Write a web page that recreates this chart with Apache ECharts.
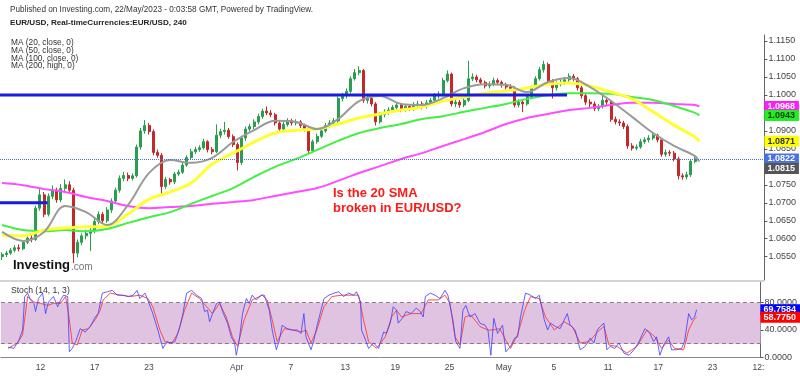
<!DOCTYPE html>
<html><head><meta charset="utf-8">
<script src="https://cdn.jsdelivr.net/npm/echarts@6/dist/echarts.min.js"></script>
<style>html,body{margin:0;padding:0;background:#fff}#c{width:800px;height:376px}</style>
</head><body><div id="c"></div>
<script>
// ---------- DATA ----------
const N_SLOTS = 182; // 8-hour bar slots shown on the time axis (incl. empty future space)
const xTickIdx  = [9, 22, 35, 56, 69, 82, 94, 107, 120, 132, 145, 157, 170, 181];
const xTickText = ['12','17','23','Apr','7','13','19','25','May','5','11','17','23','12:'];

const candleOpen = [1.0550,1.0556,1.0560,1.0568,1.0575,1.0572,1.0590,1.0602,1.0598,1.0685,
 1.0722,1.0668,1.0718,1.0735,1.0708,1.0740,1.0750,1.0735,1.0560,1.0590,
 1.0608,1.0615,1.0622,1.0648,1.0668,1.0650,1.0680,1.0705,1.0735,1.0768,
 1.0776,1.0768,1.0775,1.0855,1.0900,1.0915,1.0898,1.0840,1.0832,1.0745,
 1.0765,1.0758,1.0780,1.0785,1.0805,1.0826,1.0842,1.0848,1.0853,1.0870,
 1.0848,1.0842,1.0888,1.0898,1.0902,1.0884,1.0862,1.0812,1.0880,1.0905,
 1.0912,1.0925,1.0940,1.0955,1.0950,1.0945,1.0922,1.0905,1.0918,1.0928,
 1.0922,1.0925,1.0915,1.0905,1.0845,1.0870,1.0885,1.0900,1.0915,1.0922,
 1.0928,1.0990,1.0998,1.1010,1.1045,1.1062,1.1068,1.0985,1.0990,1.0975,
 1.0925,1.0945,1.0952,1.0958,1.0965,1.0972,1.0960,1.0968,1.0962,1.0972,
 1.0975,1.0968,1.0978,1.0985,1.0998,1.1002,1.1040,1.1058,1.0975,1.0980,
 1.0972,1.0985,1.1045,1.1050,1.1042,1.1035,1.1025,1.1030,1.1040,1.1035,
 1.1028,1.1022,1.1018,1.0972,1.0980,1.0975,1.0995,1.1020,1.1045,1.1070,
 1.1085,1.1038,1.1020,1.1030,1.1035,1.1042,1.1052,1.1045,1.1020,1.0998,
 1.0980,1.0975,1.0962,1.0968,1.0985,1.0980,1.0932,1.0925,1.0922,1.0912,
 1.0858,1.0852,1.0855,1.0870,1.0875,1.0880,1.0888,1.0875,1.0835,1.0840,
 1.0838,1.0822,1.0775,1.0772,1.0778,1.0815];
const candleClose = [1.0556,1.0560,1.0568,1.0575,1.0572,1.0590,1.0602,1.0598,1.0685,1.0722,
 1.0668,1.0718,1.0735,1.0708,1.0740,1.0750,1.0735,1.0560,1.0590,1.0608,
 1.0615,1.0622,1.0648,1.0668,1.0650,1.0680,1.0705,1.0735,1.0768,1.0776,
 1.0768,1.0775,1.0855,1.0900,1.0915,1.0898,1.0840,1.0832,1.0745,1.0765,
 1.0758,1.0780,1.0785,1.0805,1.0826,1.0842,1.0848,1.0853,1.0870,1.0848,
 1.0842,1.0888,1.0898,1.0902,1.0884,1.0862,1.0812,1.0880,1.0905,1.0912,
 1.0925,1.0940,1.0955,1.0950,1.0945,1.0922,1.0905,1.0918,1.0928,1.0922,
 1.0925,1.0915,1.0905,1.0845,1.0870,1.0885,1.0900,1.0915,1.0922,1.0928,
 1.0990,1.0998,1.1010,1.1045,1.1062,1.1068,1.0985,1.0990,1.0975,1.0925,
 1.0945,1.0952,1.0958,1.0965,1.0972,1.0960,1.0968,1.0962,1.0972,1.0975,
 1.0968,1.0978,1.0985,1.0998,1.1002,1.1040,1.1058,1.0975,1.0980,1.0972,
 1.0985,1.1045,1.1050,1.1042,1.1035,1.1025,1.1030,1.1040,1.1035,1.1028,
 1.1022,1.1018,1.0972,1.0980,1.0975,1.0995,1.1020,1.1045,1.1070,1.1085,
 1.1038,1.1020,1.1030,1.1035,1.1042,1.1052,1.1045,1.1020,1.0998,1.0980,
 1.0975,1.0962,1.0968,1.0985,1.0980,1.0932,1.0925,1.0922,1.0912,1.0858,
 1.0852,1.0855,1.0870,1.0875,1.0880,1.0888,1.0875,1.0835,1.0840,1.0838,
 1.0822,1.0775,1.0772,1.0778,1.0815,1.0822];
const candleHigh = [1.0562,1.0566,1.0574,1.0582,1.0584,1.0596,1.0610,1.0612,1.0692,1.0738,
 1.0730,1.0726,1.0748,1.0742,1.0752,1.0765,1.0760,1.0742,1.0598,1.0615,
 1.0625,1.0630,1.0655,1.0676,1.0674,1.0688,1.0712,1.0742,1.0776,1.0786,
 1.0784,1.0782,1.0862,1.0908,1.0930,1.0922,1.0904,1.0848,1.0838,1.0772,
 1.0770,1.0786,1.0792,1.0812,1.0832,1.0850,1.0856,1.0860,1.0878,1.0874,
 1.0855,1.0918,1.0906,1.0925,1.0908,1.0890,1.0868,1.0886,1.0912,1.0920,
 1.0932,1.0948,1.0962,1.0968,1.0958,1.0950,1.0928,1.0925,1.0935,1.0934,
 1.0932,1.0930,1.0920,1.0910,1.0876,1.0892,1.0906,1.0922,1.0930,1.0936,
 1.0996,1.1006,1.1018,1.1052,1.1072,1.1080,1.1072,1.0998,1.0996,1.0980,
 1.0952,1.0960,1.0966,1.0972,1.0980,1.0978,1.0975,1.0974,1.0980,1.0984,
 1.0982,1.0986,1.0992,1.1005,1.1010,1.1048,1.1068,1.1062,1.0988,1.0986,
 1.0992,1.1095,1.1060,1.1056,1.1048,1.1040,1.1038,1.1048,1.1046,1.1040,
 1.1034,1.1030,1.1024,1.0988,1.0986,1.1002,1.1026,1.1052,1.1078,1.1095,
 1.1090,1.1044,1.1038,1.1042,1.1050,1.1060,1.1058,1.1050,1.1026,1.1004,
 1.0988,1.0982,1.0975,1.1005,1.0992,1.0986,1.0940,1.0932,1.0928,1.0918,
 1.0866,1.0862,1.0878,1.0882,1.0888,1.0895,1.0892,1.0880,1.0848,1.0846,
 1.0844,1.0828,1.0782,1.0786,1.0822,1.0832];
const candleLow = [1.0541,1.0549,1.0555,1.0562,1.0565,1.0568,1.0585,1.0590,1.0594,1.0678,
 1.0660,1.0662,1.0710,1.0700,1.0702,1.0732,1.0726,1.0532,1.0548,1.0582,
 1.0598,1.0566,1.0615,1.0640,1.0642,1.0644,1.0672,1.0698,1.0728,1.0760,
 1.0760,1.0762,1.0770,1.0848,1.0892,1.0890,1.0832,1.0825,1.0722,1.0738,
 1.0750,1.0752,1.0774,1.0780,1.0800,1.0820,1.0836,1.0842,1.0848,1.0840,
 1.0835,1.0838,1.0880,1.0890,1.0878,1.0855,1.0790,1.0805,1.0872,1.0898,
 1.0905,1.0918,1.0934,1.0944,1.0938,1.0915,1.0898,1.0900,1.0912,1.0915,
 1.0915,1.0908,1.0898,1.0835,1.0840,1.0864,1.0880,1.0895,1.0908,1.0915,
 1.0922,1.0982,1.0990,1.1005,1.1040,1.1055,1.0978,1.0976,1.0968,1.0915,
 1.0920,1.0938,1.0945,1.0950,1.0958,1.0952,1.0954,1.0955,1.0956,1.0965,
 1.0960,1.0962,1.0972,1.0980,1.0990,1.0996,1.1035,1.0968,1.0966,1.0964,
 1.0966,1.0980,1.1038,1.1035,1.1028,1.1018,1.1018,1.1024,1.1028,1.1020,
 1.1015,1.1010,1.0965,1.0965,1.0952,1.0970,1.0990,1.1015,1.1040,1.1062,
 1.1030,1.0990,1.1012,1.1024,1.1028,1.1036,1.1038,1.1012,1.0990,1.0972,
 1.0966,1.0955,1.0955,1.0962,1.0972,1.0925,1.0918,1.0914,1.0905,1.0850,
 1.0845,1.0846,1.0850,1.0864,1.0868,1.0874,1.0868,1.0828,1.0828,1.0830,
 1.0815,1.0765,1.0764,1.0765,1.0772,1.0810];

// moving averages, read at these bar positions
const maIdx = [0,5,10,15,20,25,30,35,40,45,50,55,60,65,70,75,80,85,90,95,100,105,110,115,120,125,130,135,140,145,150,155,160,165,166];
const ma20  = [1.0619,1.0594,1.0619,1.0691,1.0674,1.0638,1.0694,1.0783,1.0819,1.0811,1.0825,1.0869,1.0902,1.0928,1.0925,1.0905,1.0933,1.0983,1.0997,1.0975,1.0972,1.0991,1.1019,1.1030,1.1028,1.1008,1.1036,1.1047,1.1022,1.0983,1.0939,1.0894,1.0858,1.0830,1.0815];
const ma50  = [1.0610,1.0608,1.0624,1.0630,1.0633,1.0635,1.0669,1.0710,1.0730,1.0755,1.0808,1.0838,1.0869,1.0894,1.0902,1.0905,1.0919,1.0936,1.0947,1.0958,1.0966,1.0983,1.0994,1.1005,1.1011,1.1019,1.1030,1.1033,1.1025,1.1008,1.0989,1.0953,1.0916,1.0883,1.0871];
const ma100 = [1.0638,1.0624,1.0621,1.0624,1.0621,1.0627,1.0644,1.0660,1.0674,1.0697,1.0719,1.0741,1.0772,1.0800,1.0822,1.0847,1.0872,1.0894,1.0908,1.0919,1.0933,1.0941,1.0953,1.0964,1.0975,1.0989,1.1000,1.1005,1.1005,1.1003,1.0994,1.0986,1.0969,1.0950,1.0943];
const ma200 = [1.0755,1.0749,1.0738,1.0730,1.0716,1.0705,1.0691,1.0685,1.0688,1.0691,1.0697,1.0702,1.0708,1.0719,1.0730,1.0741,1.0761,1.0783,1.0802,1.0822,1.0838,1.0858,1.0877,1.0897,1.0919,1.0936,1.0947,1.0958,1.0964,1.0972,1.0978,1.0978,1.0975,1.0972,1.0968];

// horizontal trend levels [price, fromBar, toBar]
const levelPrice = [1.1000, 1.0700];
const levelFrom  = [-0.5, -0.5];
const levelTo    = [134.5, 10.8];

// stochastic (14,1,3): [bar position, value]
const stochK = [[1.2,15],[2.6,13],[3.8,25],[4.7,40],[5.2,89],[5.9,94],[6.6,84],[7.4,79],[7.8,67],[8.5,86],[9.5,94],[10.2,64],[10.9,81],[12.1,89],[13.1,74],[13.8,84],[14.5,91],[15.5,89],[15.9,8],[16.6,13],[17.4,23],[18.5,42],[19.7,37],[20.9,45],[22.1,59],[22.8,64],[23.8,94],[25.0,96],[26.2,98],[27.4,91],[28.8,91],[30.0,89],[31.2,91],[32.1,98],[32.8,86],[34.0,94],[34.7,84],[35.9,64],[37.1,40],[38.3,13],[39.3,23],[40.0,21],[41.2,23],[42.4,45],[43.1,64],[44.0,94],[45.2,98],[46.4,91],[47.6,86],[48.3,67],[49.0,69],[49.5,52],[50.2,64],[51.2,79],[51.9,81],[52.6,67],[53.8,50],[54.7,30],[55.5,21],[55.9,3],[56.6,25],[57.4,64],[58.3,86],[59.0,79],[59.7,91],[60.7,84],[61.9,91],[62.6,91],[63.8,69],[64.5,40],[65.5,11],[66.2,25],[66.9,47],[68.1,42],[69.3,40],[70.5,40],[71.4,35],[72.1,64],[72.6,30],[73.8,11],[74.5,25],[75.2,45],[76.2,69],[76.9,86],[78.1,91],[79.3,94],[80.5,96],[81.6,89],[82.8,94],[84.0,91],[84.7,96],[85.7,81],[85.9,40],[86.9,25],[87.6,13],[88.8,21],[90.0,13],[91.2,37],[91.9,35],[92.8,50],[93.5,74],[94.3,69],[94.7,50],[95.9,59],[96.6,67],[97.8,64],[99.0,72],[100.0,67],[100.7,59],[101.2,89],[102.4,94],[103.5,91],[104.7,86],[105.9,98],[106.6,91],[107.8,55],[108.5,23],[109.5,13],[110.2,69],[110.9,76],[111.9,59],[113.1,64],[114.3,50],[115.5,47],[116.2,40],[116.9,3],[117.6,57],[118.5,35],[119.7,47],[120.5,8],[121.6,16],[122.6,28],[123.3,30],[124.0,59],[125.2,94],[126.4,91],[127.6,86],[128.5,91],[129.7,55],[130.5,40],[131.2,50],[132.4,45],[133.5,42],[135.2,64],[135.9,47],[137.1,40],[138.3,11],[139.5,16],[140.7,28],[141.6,21],[142.4,40],[143.1,45],[144.0,50],[144.7,11],[145.5,16],[146.6,13],[147.6,21],[148.8,6],[150.0,3],[151.2,11],[152.4,23],[153.8,42],[155.0,35],[155.9,23],[156.6,30],[157.4,3],[158.3,18],[159.5,30],[160.2,11],[161.4,11],[162.6,13],[163.3,23],[164.3,64],[165.0,55],[165.7,59],[166.2,69.7584]];
const stochD = [[1.2,13],[3.5,21],[4.7,33],[5.9,89],[7.4,81],[9.0,79],[10.7,76],[12.1,79],[13.8,79],[15.0,89],[15.7,64],[16.6,21],[17.8,18],[19.0,40],[20.5,42],[22.1,55],[23.3,69],[24.0,84],[25.7,94],[28.1,91],[30.5,89],[32.8,91],[34.7,86],[35.9,74],[37.6,40],[38.8,23],[40.5,21],[41.9,35],[43.5,69],[45.2,94],[47.1,86],[48.8,74],[50.2,64],[51.9,79],[53.5,59],[55.0,30],[56.2,16],[57.8,55],[59.7,84],[62.1,91],[63.3,84],[64.5,55],[65.7,23],[67.4,42],[69.3,40],[71.4,37],[72.6,40],[73.8,21],[75.2,40],[76.9,74],[78.8,89],[81.2,91],[83.5,91],[85.2,91],[86.4,55],[87.6,23],[89.5,13],[91.6,30],[93.1,59],[94.3,69],[95.5,59],[97.8,64],[100.2,64],[101.9,84],[104.3,84],[105.9,91],[107.1,79],[108.3,30],[109.5,18],[110.7,59],[112.1,62],[114.3,45],[116.2,40],[117.4,40],[119.0,42],[120.5,25],[121.6,13],[123.3,33],[125.0,69],[126.4,89],[128.5,86],[130.0,59],[132.1,40],[134.5,52],[136.4,45],[138.3,21],[140.5,23],[142.4,37],[144.0,45],[145.2,18],[147.1,16],[149.5,6],[151.9,16],[154.3,40],[156.2,30],[157.8,13],[159.5,25],[160.9,13],[163.1,11],[164.3,40],[165.5,55],[166.2,58.775]];

const priceTicks = [1.0550,1.0600,1.0650,1.0700,1.0750,1.0800,1.0850,1.0900,1.0950,1.1000,1.1050,1.1100,1.1150];
const stochTicks = [0, 40, 80];
const stochBand = [20, 80];

// ---------- CHART ----------
const FONT = "'Liberation Sans', Arial, sans-serif";
const chart = echarts.init(document.getElementById('c'), null, {renderer: 'canvas'});
const cats = Array.from({length: N_SLOTS}, (_, i) => 'b' + i);
const candles = candleOpen.map((o, i) => [o, candleClose[i], candleLow[i], candleHigh[i]]);
const pairs = (xs, ys) => xs.map((x, i) => [x, ys[i]]);
const last = a => a[a.length - 1];

function tag(value, bg, fg, dy, lineStyle) {
  return {
    yAxis: value,
    lineStyle: lineStyle || {color: 'rgba(0,0,0,0)', width: 1},
    label: {show: true, position: 'end', distance: 0, formatter: value.toFixed(4),
      backgroundColor: bg, color: fg, fontSize: 9, fontWeight: 'bold', fontFamily: FONT,
      padding: [1, 4, 1, 3], offset: [0, dy || 0]}
  };
}

const maStyle = (color, w) => ({type: 'line', xAxisIndex: 1, yAxisIndex: 0, smooth: 0.35, showSymbol: false,
  symbol: 'none', lineStyle: {color, width: w}, z: 4, silent: true});

const option = {
  animation: false,
  backgroundColor: '#ffffff',
  textStyle: {fontFamily: FONT},
  grid: [
    {left: 0, right: 35.6, top: 35, bottom: 96},
    {left: 0, right: 35.6, top: 282.2, bottom: 18.7}
  ],
  xAxis: [
    {type: 'category', gridIndex: 0, data: cats, boundaryGap: true, show: false},
    {type: 'value', gridIndex: 0, min: -0.5, max: N_SLOTS - 0.5, show: false},
    {type: 'category', gridIndex: 1, data: cats, boundaryGap: true,
      axisLine: {show: true, lineStyle: {color: '#888', width: 1}},
      axisTick: {show: false}, splitLine: {show: false},
      axisLabel: {interval: 0, fontSize: 8.5, color: '#444', margin: 6, fontFamily: "'Liberation Sans Narrow', 'Liberation Sans', Arial, sans-serif",
        formatter: (v, i) => { const k = xTickIdx.indexOf(i); return k >= 0 ? xTickText[k] : ''; }}},
    {type: 'value', gridIndex: 1, min: -0.5, max: N_SLOTS - 0.5, show: false}
  ],
  yAxis: [
    {type: 'value', gridIndex: 0, position: 'right', min: 1.04852, max: 1.11667, scale: true,
      axisLine: {show: true, onZero: false, lineStyle: {color: '#666', width: 1}}, splitLine: {show: false},
      axisTick: {show: true, length: 3, lineStyle: {color: '#555'}, customValues: priceTicks},
      axisLabel: {fontSize: 9, color: '#444', margin: 4, customValues: priceTicks, formatter: v => v.toFixed(4)}},
    {type: 'value', gridIndex: 1, position: 'right', min: 0, max: 110,
      axisLine: {show: true, onZero: false, lineStyle: {color: '#666', width: 1}}, splitLine: {show: false},
      axisTick: {show: true, length: 3, lineStyle: {color: '#555'}, customValues: stochTicks},
      axisLabel: {fontSize: 9, color: '#444', margin: 4, customValues: stochTicks, formatter: v => v.toFixed(4)}}
  ],
  series: [
    {type: 'candlestick', xAxisIndex: 0, yAxisIndex: 0, data: candles, barWidth: '62%', z: 3,
      itemStyle: {color: '#2a9d4f', color0: '#c22a2a', borderColor: '#2a9d4f', borderColor0: '#c22a2a', borderWidth: 1},
      markLine: {symbol: 'none', silent: true, animation: false, precision: 4, z: 6,
        data: [
          tag(last(candleClose), '#4a72e0', '#fff', 0, {color: '#4a72e0', type: 'dotted', width: 1}),
          tag(last(ma200), '#ff1cff', '#fff', 0),
          tag(last(ma100), '#22ee22', '#1b3d1b', 0),
          tag(last(ma50), '#ffff00', '#333', 0),
          tag(last(ma20), '#555555', '#fff', 7)
        ]}},
    Object.assign(maStyle('#ff4dff', 2), {data: pairs(maIdx, ma200)}),
    Object.assign(maStyle('#44ee44', 2), {data: pairs(maIdx, ma100)}),
    Object.assign(maStyle('#ffff33', 3), {data: pairs(maIdx, ma50)}),
    Object.assign(maStyle('#9a9a9a', 2), {data: pairs(maIdx, ma20)}),
    ...levelPrice.map((p, k) => ({type: 'line', xAxisIndex: 1, yAxisIndex: 0, symbol: 'none', silent: true, z: 5,
      lineStyle: {color: '#1a1ae0', width: 3}, data: [[levelFrom[k], p], [levelTo[k], p]]})),
    {type: 'line', xAxisIndex: 3, yAxisIndex: 1, symbol: 'none', silent: true, z: 3,
      lineStyle: {color: '#ff4a4a', width: 1}, data: stochD,
      markArea: {silent: true, itemStyle: {color: '#e0c2e1'}, data: [[{yAxis: stochBand[0]}, {yAxis: stochBand[1]}]]},
      markLine: {symbol: 'none', silent: true, z: 2, lineStyle: {color: '#8a7a8a', type: [4, 3], width: 1}, label: {show: false},
        data: [{yAxis: stochBand[0]}, {yAxis: stochBand[1]}]}},
    {type: 'line', xAxisIndex: 3, yAxisIndex: 1, symbol: 'none', silent: true, z: 4,
      lineStyle: {color: 'rgba(70,70,255,0.85)', width: 1}, data: stochK,
      markLine: {symbol: 'none', silent: true, z: 6, data: [
        tag(last(stochK)[1], '#0000ff', '#fff', 0),
        tag(last(stochD)[1], '#ff0000', '#fff', 0)
      ]}}
  ],
  graphic: [
    {type: 'text', left: 10, top: 6, style: {text: 'Published on Investing.com, 22/May/2023 - 0:03:58 GMT, Powered by TradingView.', fontSize: 8.2, fill: '#333', fontFamily: FONT}},
    {type: 'text', left: 10, top: 19, style: {text: 'EUR/USD, Real-timeCurrencies:EUR/USD, 240', fontSize: 8.1, fontWeight: 'bold', fill: '#222', fontFamily: FONT}},
    {type: 'text', left: 11, top: 39, style: {text: 'MA (20, close, 0)', fontSize: 8.3, fill: '#333', fontFamily: FONT}},
    {type: 'text', left: 11, top: 46.7, style: {text: 'MA (50, close, 0)', fontSize: 8.3, fill: '#333', fontFamily: FONT}},
    {type: 'text', left: 11, top: 54.4, style: {text: 'MA (100, close, 0)', fontSize: 8.3, fill: '#333', fontFamily: FONT}},
    {type: 'text', left: 11, top: 62.1, style: {text: 'MA (200, high, 0)', fontSize: 8.3, fill: '#333', fontFamily: FONT}},
    {type: 'text', left: 11, top: 286, style: {text: 'Stoch (14, 1, 3)', fontSize: 8.6, fill: '#333', fontFamily: FONT}},
    {type: 'text', left: 333, top: 186, z: 20, style: {text: 'Is the 20 SMA\nbroken in EUR/USD?', fontSize: 13, lineHeight: 15, fontWeight: 'bold', fill: '#ff1a1a', fontFamily: FONT}},
    {type: 'text', left: 13, top: 259, z: 20, style: {text: 'Investing', fontSize: 13, fontWeight: 'bold', fill: '#111', fontFamily: FONT}},
    {type: 'text', left: 71, top: 262, z: 20, style: {text: '.com', fontSize: 10, fill: '#777', fontFamily: FONT}},
    {type: 'line', z: 10, shape: {x1: 0, y1: 281, x2: 764.4, y2: 281}, style: {stroke: '#c4c4c4', lineWidth: 1.5}}
  ]
};
chart.setOption(option);
</script></body></html>
